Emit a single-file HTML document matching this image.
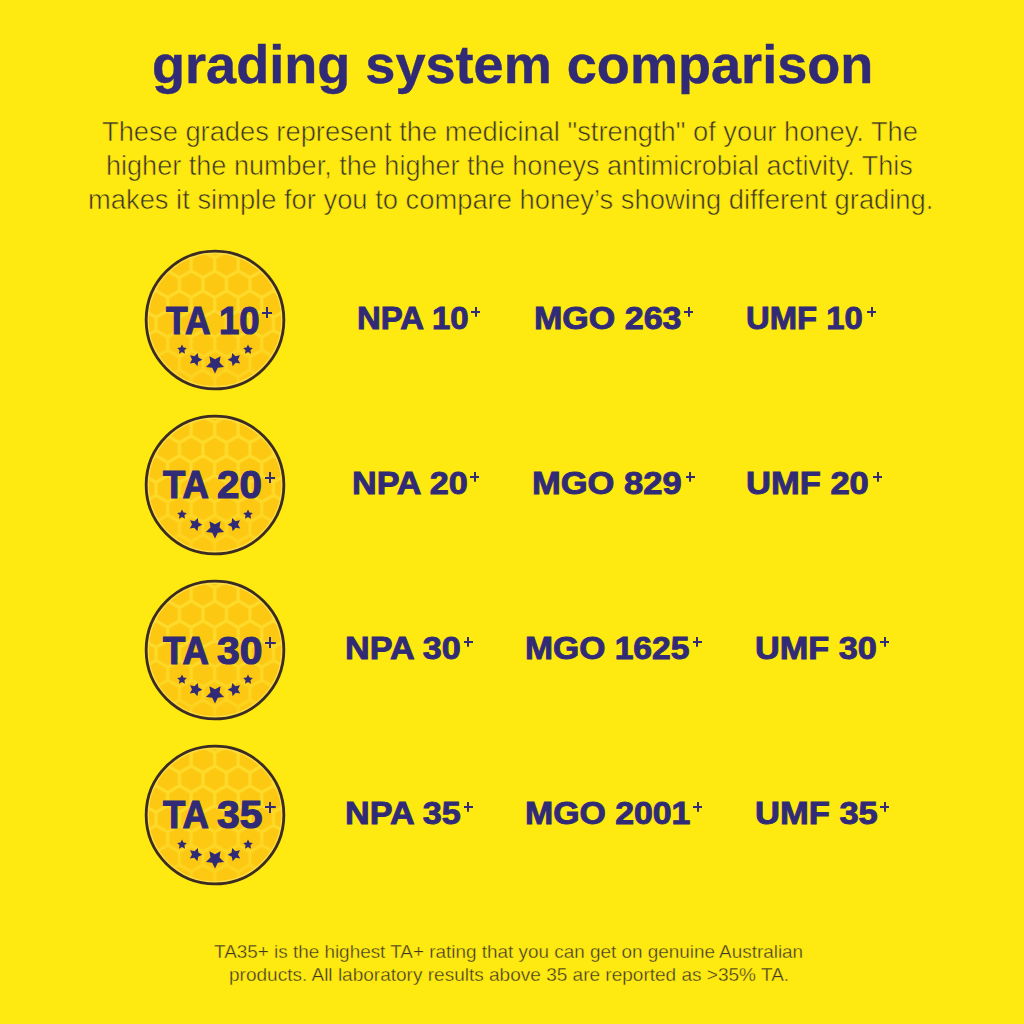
<!DOCTYPE html>
<html><head><meta charset="utf-8">
<style>
html,body{margin:0;padding:0;}
body{width:1024px;height:1024px;background:#FEE910;position:relative;overflow:hidden;font-family:"Liberation Sans",sans-serif;}
.t{position:absolute;white-space:nowrap;line-height:1;transform-origin:0 0;}
.title{font-weight:bold;color:#312b77;font-size:53.5px;-webkit-text-stroke:0.4px #312b77;}
.p{color:#3b3422;font-size:28.5px;-webkit-text-stroke:0.6px #FEE910;}
.g{font-weight:bold;color:#312b77;font-size:30.5px;-webkit-text-stroke:0.9px #312b77;}
.b{font-weight:bold;color:#312b77;font-size:39px;-webkit-text-stroke:1.2px #312b77;}
.f{color:#3b3422;font-size:18.6px;-webkit-text-stroke:0.35px #FEE910;}
.badge{position:absolute;width:150px;height:150px;}
.pl{position:absolute;}
</style></head><body>
<svg width="0" height="0" style="position:absolute"><defs>
<pattern id="hex" patternUnits="userSpaceOnUse" width="23.5" height="39.6" x="4.20" y="39.20">
<rect width="23.5" height="39.6" fill="#FCC812"/>
<path d="M0.00,-13.20L11.75,-6.60L11.75,6.60L0.00,13.20L-11.75,6.60L-11.75,-6.60ZM23.50,-13.20L35.25,-6.60L35.25,6.60L23.50,13.20L11.75,6.60L11.75,-6.60ZM0.00,26.40L11.75,33.00L11.75,46.20L0.00,52.80L-11.75,46.20L-11.75,33.00ZM23.50,26.40L35.25,33.00L35.25,46.20L23.50,52.80L11.75,46.20L11.75,33.00ZM11.75,6.60L23.50,13.20L23.50,26.40L11.75,33.00L0.00,26.40L0.00,13.20Z" fill="none" stroke="#FEDB2A" stroke-width="3.2"/>
</pattern>
<linearGradient id="fade" x1="0" y1="0" x2="0" y2="1"><stop offset="0.45" stop-color="#FCC812" stop-opacity="0"/><stop offset="1" stop-color="#FCC812" stop-opacity="0.5"/></linearGradient>
</defs></svg>
<div class="t title" id="title" style="left:152.09px;top:38.21px;transform:scaleX(1.0109);">grading system comparison</div>
<div class="t p" id="p0" style="left:101.84px;top:116.97px;transform:scaleX(0.9571);">These grades represent the medicinal "strength" of your honey. The</div>
<div class="t p" id="p1" style="left:106.39px;top:151.17px;transform:scaleX(0.9496);">higher the number, the higher the honeys antimicrobial activity. This</div>
<div class="t p" id="p2" style="left:87.59px;top:185.27px;transform:scaleX(0.9592);">makes it simple for you to compare honey’s showing different grading.</div>
<div class="badge" style="left:140.40px;top:245.10px;"><svg width="150" height="150" viewBox="0 0 150 150"><circle cx="75" cy="75" r="68.85" fill="url(#hex)"/><circle cx="75" cy="75" r="68.85" fill="url(#fade)"/><circle cx="75" cy="75" r="66.85" fill="none" stroke="#FDDC45" stroke-width="1.6"/><circle cx="75" cy="75" r="68.85" fill="none" stroke="#3a2c22" stroke-width="2.8"/><g fill="#312b77"><polygon points="41.98,99.47 43.48,102.51 46.83,103.00 44.41,105.36 44.98,108.70 41.98,107.12 38.98,108.70 39.56,105.36 37.13,103.00 40.48,102.51"/><polygon points="57.85,108.06 58.35,112.62 62.38,114.79 58.20,116.67 57.39,121.18 54.31,117.79 49.76,118.41 52.04,114.43 50.05,110.30 54.53,111.23"/><polygon points="80.58,111.31 79.52,117.53 84.04,121.94 77.79,122.84 75.00,128.50 72.21,122.84 65.96,121.94 70.48,117.53 69.42,111.31 75.00,114.25"/><polygon points="92.15,108.06 95.47,111.23 99.95,110.30 97.96,114.43 100.24,118.41 95.69,117.79 92.61,121.18 91.80,116.67 87.62,114.79 91.65,112.62"/><polygon points="108.02,99.47 109.52,102.51 112.87,103.00 110.44,105.36 111.02,108.70 108.02,107.12 105.02,108.70 105.59,105.36 103.17,103.00 106.52,102.51"/></g></svg></div>
<div class="t b" id="bT0" style="left:166.00px;top:300.69px;transform:scaleX(0.9064);">TA</div>
<div class="t b" id="bN0" style="left:219.38px;top:300.69px;transform:scaleX(0.9336);">10</div>
<div class="pl" style="left:261.50px;top:307.30px;width:10.50px;height:11.00px;background:linear-gradient(#312b77,#312b77) center/100% 2.3px no-repeat,linear-gradient(#312b77,#312b77) center/2.3px 100% no-repeat;"></div>
<div class="t g" id="g00" style="left:357.37px;top:303.18px;transform:scaleX(1.0793);">NPA 10</div>
<div class="pl" style="left:471.00px;top:307.10px;width:9.30px;height:9.50px;background:linear-gradient(#312b77,#312b77) center/100% 2.0px no-repeat,linear-gradient(#312b77,#312b77) center/2.0px 100% no-repeat;"></div>
<div class="t g" id="g01" style="left:533.76px;top:303.18px;transform:scaleX(1.1154);">MGO 263</div>
<div class="pl" style="left:684.00px;top:307.10px;width:9.30px;height:9.50px;background:linear-gradient(#312b77,#312b77) center/100% 2.0px no-repeat,linear-gradient(#312b77,#312b77) center/2.0px 100% no-repeat;"></div>
<div class="t g" id="g02" style="left:745.84px;top:303.18px;transform:scaleX(1.0756);">UMF 10</div>
<div class="pl" style="left:867.00px;top:307.10px;width:9.30px;height:9.50px;background:linear-gradient(#312b77,#312b77) center/100% 2.0px no-repeat,linear-gradient(#312b77,#312b77) center/2.0px 100% no-repeat;"></div>
<div class="badge" style="left:140.40px;top:410.00px;"><svg width="150" height="150" viewBox="0 0 150 150"><circle cx="75" cy="75" r="68.85" fill="url(#hex)"/><circle cx="75" cy="75" r="68.85" fill="url(#fade)"/><circle cx="75" cy="75" r="66.85" fill="none" stroke="#FDDC45" stroke-width="1.6"/><circle cx="75" cy="75" r="68.85" fill="none" stroke="#3a2c22" stroke-width="2.8"/><g fill="#312b77"><polygon points="41.98,99.47 43.48,102.51 46.83,103.00 44.41,105.36 44.98,108.70 41.98,107.12 38.98,108.70 39.56,105.36 37.13,103.00 40.48,102.51"/><polygon points="57.85,108.06 58.35,112.62 62.38,114.79 58.20,116.67 57.39,121.18 54.31,117.79 49.76,118.41 52.04,114.43 50.05,110.30 54.53,111.23"/><polygon points="80.58,111.31 79.52,117.53 84.04,121.94 77.79,122.84 75.00,128.50 72.21,122.84 65.96,121.94 70.48,117.53 69.42,111.31 75.00,114.25"/><polygon points="92.15,108.06 95.47,111.23 99.95,110.30 97.96,114.43 100.24,118.41 95.69,117.79 92.61,121.18 91.80,116.67 87.62,114.79 91.65,112.62"/><polygon points="108.02,99.47 109.52,102.51 112.87,103.00 110.44,105.36 111.02,108.70 108.02,107.12 105.02,108.70 105.59,105.36 103.17,103.00 106.52,102.51"/></g></svg></div>
<div class="t b" id="bT1" style="left:163.00px;top:465.49px;transform:scaleX(0.9351);">TA</div>
<div class="t b" id="bN1" style="left:217.28px;top:465.49px;transform:scaleX(1.0329);">20</div>
<div class="pl" style="left:264.80px;top:472.30px;width:10.50px;height:11.00px;background:linear-gradient(#312b77,#312b77) center/100% 2.3px no-repeat,linear-gradient(#312b77,#312b77) center/2.3px 100% no-repeat;"></div>
<div class="t g" id="g10" style="left:351.75px;top:468.18px;transform:scaleX(1.1189);">NPA 20</div>
<div class="pl" style="left:470.00px;top:472.10px;width:9.30px;height:9.50px;background:linear-gradient(#312b77,#312b77) center/100% 2.0px no-repeat,linear-gradient(#312b77,#312b77) center/2.0px 100% no-repeat;"></div>
<div class="t g" id="g11" style="left:532.44px;top:468.18px;transform:scaleX(1.1320);">MGO 829</div>
<div class="pl" style="left:685.50px;top:472.10px;width:9.30px;height:9.50px;background:linear-gradient(#312b77,#312b77) center/100% 2.0px no-repeat,linear-gradient(#312b77,#312b77) center/2.0px 100% no-repeat;"></div>
<div class="t g" id="g12" style="left:746.28px;top:468.18px;transform:scaleX(1.1323);">UMF 20</div>
<div class="pl" style="left:873.00px;top:472.10px;width:9.30px;height:9.50px;background:linear-gradient(#312b77,#312b77) center/100% 2.0px no-repeat,linear-gradient(#312b77,#312b77) center/2.0px 100% no-repeat;"></div>
<div class="badge" style="left:140.40px;top:574.90px;"><svg width="150" height="150" viewBox="0 0 150 150"><circle cx="75" cy="75" r="68.85" fill="url(#hex)"/><circle cx="75" cy="75" r="68.85" fill="url(#fade)"/><circle cx="75" cy="75" r="66.85" fill="none" stroke="#FDDC45" stroke-width="1.6"/><circle cx="75" cy="75" r="68.85" fill="none" stroke="#3a2c22" stroke-width="2.8"/><g fill="#312b77"><polygon points="41.98,99.47 43.48,102.51 46.83,103.00 44.41,105.36 44.98,108.70 41.98,107.12 38.98,108.70 39.56,105.36 37.13,103.00 40.48,102.51"/><polygon points="57.85,108.06 58.35,112.62 62.38,114.79 58.20,116.67 57.39,121.18 54.31,117.79 49.76,118.41 52.04,114.43 50.05,110.30 54.53,111.23"/><polygon points="80.58,111.31 79.52,117.53 84.04,121.94 77.79,122.84 75.00,128.50 72.21,122.84 65.96,121.94 70.48,117.53 69.42,111.31 75.00,114.25"/><polygon points="92.15,108.06 95.47,111.23 99.95,110.30 97.96,114.43 100.24,118.41 95.69,117.79 92.61,121.18 91.80,116.67 87.62,114.79 91.65,112.62"/><polygon points="108.02,99.47 109.52,102.51 112.87,103.00 110.44,105.36 111.02,108.70 108.02,107.12 105.02,108.70 105.59,105.36 103.17,103.00 106.52,102.51"/></g></svg></div>
<div class="t b" id="bT2" style="left:163.00px;top:630.69px;transform:scaleX(0.9351);">TA</div>
<div class="t b" id="bN2" style="left:217.00px;top:630.69px;transform:scaleX(1.0465);">30</div>
<div class="pl" style="left:265.20px;top:637.30px;width:10.50px;height:11.00px;background:linear-gradient(#312b77,#312b77) center/100% 2.3px no-repeat,linear-gradient(#312b77,#312b77) center/2.3px 100% no-repeat;"></div>
<div class="t g" id="g20" style="left:345.04px;top:633.18px;transform:scaleX(1.1191);">NPA 30</div>
<div class="pl" style="left:463.75px;top:637.10px;width:9.30px;height:9.50px;background:linear-gradient(#312b77,#312b77) center/100% 2.0px no-repeat,linear-gradient(#312b77,#312b77) center/2.0px 100% no-repeat;"></div>
<div class="t g" id="g21" style="left:525.06px;top:633.18px;transform:scaleX(1.1022);">MGO 1625</div>
<div class="pl" style="left:692.50px;top:637.10px;width:9.30px;height:9.50px;background:linear-gradient(#312b77,#312b77) center/100% 2.0px no-repeat,linear-gradient(#312b77,#312b77) center/2.0px 100% no-repeat;"></div>
<div class="t g" id="g22" style="left:755.03px;top:633.18px;transform:scaleX(1.1230);">UMF 30</div>
<div class="pl" style="left:880.00px;top:637.10px;width:9.30px;height:9.50px;background:linear-gradient(#312b77,#312b77) center/100% 2.0px no-repeat,linear-gradient(#312b77,#312b77) center/2.0px 100% no-repeat;"></div>
<div class="badge" style="left:140.40px;top:739.80px;"><svg width="150" height="150" viewBox="0 0 150 150"><circle cx="75" cy="75" r="68.85" fill="url(#hex)"/><circle cx="75" cy="75" r="68.85" fill="url(#fade)"/><circle cx="75" cy="75" r="66.85" fill="none" stroke="#FDDC45" stroke-width="1.6"/><circle cx="75" cy="75" r="68.85" fill="none" stroke="#3a2c22" stroke-width="2.8"/><g fill="#312b77"><polygon points="41.98,99.47 43.48,102.51 46.83,103.00 44.41,105.36 44.98,108.70 41.98,107.12 38.98,108.70 39.56,105.36 37.13,103.00 40.48,102.51"/><polygon points="57.85,108.06 58.35,112.62 62.38,114.79 58.20,116.67 57.39,121.18 54.31,117.79 49.76,118.41 52.04,114.43 50.05,110.30 54.53,111.23"/><polygon points="80.58,111.31 79.52,117.53 84.04,121.94 77.79,122.84 75.00,128.50 72.21,122.84 65.96,121.94 70.48,117.53 69.42,111.31 75.00,114.25"/><polygon points="92.15,108.06 95.47,111.23 99.95,110.30 97.96,114.43 100.24,118.41 95.69,117.79 92.61,121.18 91.80,116.67 87.62,114.79 91.65,112.62"/><polygon points="108.02,99.47 109.52,102.51 112.87,103.00 110.44,105.36 111.02,108.70 108.02,107.12 105.02,108.70 105.59,105.36 103.17,103.00 106.52,102.51"/></g></svg></div>
<div class="t b" id="bT3" style="left:163.00px;top:795.49px;transform:scaleX(0.9351);">TA</div>
<div class="t b" id="bN3" style="left:217.00px;top:795.49px;transform:scaleX(1.0465);">35</div>
<div class="pl" style="left:265.00px;top:802.00px;width:10.50px;height:11.00px;background:linear-gradient(#312b77,#312b77) center/100% 2.3px no-repeat,linear-gradient(#312b77,#312b77) center/2.3px 100% no-repeat;"></div>
<div class="t g" id="g30" style="left:345.04px;top:798.18px;transform:scaleX(1.1191);">NPA 35</div>
<div class="pl" style="left:463.75px;top:802.00px;width:9.30px;height:9.50px;background:linear-gradient(#312b77,#312b77) center/100% 2.0px no-repeat,linear-gradient(#312b77,#312b77) center/2.0px 100% no-repeat;"></div>
<div class="t g" id="g31" style="left:525.06px;top:798.18px;transform:scaleX(1.1089);">MGO 2001</div>
<div class="pl" style="left:693.00px;top:802.00px;width:9.30px;height:9.50px;background:linear-gradient(#312b77,#312b77) center/100% 2.0px no-repeat,linear-gradient(#312b77,#312b77) center/2.0px 100% no-repeat;"></div>
<div class="t g" id="g32" style="left:755.00px;top:798.18px;transform:scaleX(1.1323);">UMF 35</div>
<div class="pl" style="left:880.00px;top:802.00px;width:9.30px;height:9.50px;background:linear-gradient(#312b77,#312b77) center/100% 2.0px no-repeat,linear-gradient(#312b77,#312b77) center/2.0px 100% no-repeat;"></div>
<div class="t f" id="f0" style="left:214.19px;top:942.76px;transform:scaleX(1.0159);">TA35+ is the highest TA+ rating that you can get on genuine Australian</div>
<div class="t f" id="f1" style="left:229.37px;top:966.36px;transform:scaleX(1.0228);">products. All laboratory results above 35 are reported as &gt;35% TA.</div>
</body></html>
